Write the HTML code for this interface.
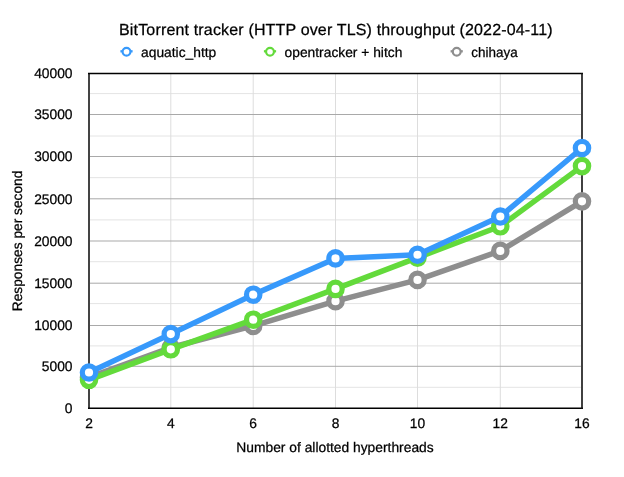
<!DOCTYPE html><html><head><meta charset="utf-8"><style>html,body{margin:0;padding:0;background:#fff;width:624px;height:477px;overflow:hidden}svg{display:block;will-change:transform}text{font-family:"Liberation Sans",sans-serif;fill:#000;stroke:#000;stroke-width:0.25px;text-rendering:geometricPrecision}</style></head><body>
<svg width="624" height="477" viewBox="0 0 624 477">
<rect width="624" height="477" fill="#fff"/>
<line x1="90" x2="581" y1="93.60" y2="93.60" stroke="#e4e4e4" stroke-width="1"/>
<line x1="90" x2="581" y1="136.00" y2="136.00" stroke="#e4e4e4" stroke-width="1"/>
<line x1="90" x2="581" y1="177.65" y2="177.65" stroke="#e4e4e4" stroke-width="1"/>
<line x1="90" x2="581" y1="219.90" y2="219.90" stroke="#e4e4e4" stroke-width="1"/>
<line x1="90" x2="581" y1="261.70" y2="261.70" stroke="#e4e4e4" stroke-width="1"/>
<line x1="90" x2="581" y1="303.60" y2="303.60" stroke="#e4e4e4" stroke-width="1"/>
<line x1="90" x2="581" y1="345.90" y2="345.90" stroke="#e4e4e4" stroke-width="1"/>
<line x1="90" x2="581" y1="387.30" y2="387.30" stroke="#e4e4e4" stroke-width="1"/>
<line x1="170.80" x2="170.80" y1="73.60" y2="408.30" stroke="#dddddd" stroke-width="1"/>
<line x1="253.20" x2="253.20" y1="73.60" y2="408.30" stroke="#dddddd" stroke-width="1"/>
<line x1="335.50" x2="335.50" y1="73.60" y2="408.30" stroke="#dddddd" stroke-width="1"/>
<line x1="417.50" x2="417.50" y1="73.60" y2="408.30" stroke="#dddddd" stroke-width="1"/>
<line x1="500.30" x2="500.30" y1="73.60" y2="408.30" stroke="#dddddd" stroke-width="1"/>
<line x1="90" x2="581" y1="366.30" y2="366.30" stroke="#a9a9a9" stroke-width="1"/>
<line x1="90" x2="581" y1="325.50" y2="325.50" stroke="#a9a9a9" stroke-width="1"/>
<line x1="90" x2="581" y1="283.20" y2="283.20" stroke="#a9a9a9" stroke-width="1"/>
<line x1="90" x2="581" y1="241.00" y2="241.00" stroke="#a9a9a9" stroke-width="1"/>
<line x1="90" x2="581" y1="198.80" y2="198.80" stroke="#a9a9a9" stroke-width="1"/>
<line x1="90" x2="581" y1="156.50" y2="156.50" stroke="#a9a9a9" stroke-width="1"/>
<line x1="90" x2="581" y1="114.50" y2="114.50" stroke="#a9a9a9" stroke-width="1"/>
<line x1="89" x2="89" y1="72.90" y2="409.00" stroke="#444" stroke-width="2"/>
<line x1="88" x2="583" y1="408.30" y2="408.30" stroke="#000" stroke-width="1.5"/>
<line x1="88" x2="583" y1="73.60" y2="73.60" stroke="#000" stroke-width="1.5"/>
<line x1="582" x2="582" y1="72.90" y2="409.00" stroke="#111" stroke-width="1.6"/>
<text x="72.5" y="413.20" font-size="13.8" text-anchor="end">0</text>
<text x="72.5" y="371.20" font-size="13.8" text-anchor="end">5000</text>
<text x="72.5" y="330.40" font-size="13.8" text-anchor="end">10000</text>
<text x="72.5" y="288.10" font-size="13.8" text-anchor="end">15000</text>
<text x="72.5" y="245.90" font-size="13.8" text-anchor="end">20000</text>
<text x="72.5" y="203.70" font-size="13.8" text-anchor="end">25000</text>
<text x="72.5" y="161.40" font-size="13.8" text-anchor="end">30000</text>
<text x="72.5" y="119.40" font-size="13.8" text-anchor="end">35000</text>
<text x="72.5" y="78.40" font-size="13.8" text-anchor="end">40000</text>
<text x="89.00" y="427.8" font-size="13.8" text-anchor="middle">2</text>
<text x="170.80" y="427.8" font-size="13.8" text-anchor="middle">4</text>
<text x="253.20" y="427.8" font-size="13.8" text-anchor="middle">6</text>
<text x="335.50" y="427.8" font-size="13.8" text-anchor="middle">8</text>
<text x="417.50" y="427.8" font-size="13.8" text-anchor="middle">10</text>
<text x="500.30" y="427.8" font-size="13.8" text-anchor="middle">12</text>
<text x="582.00" y="427.8" font-size="13.8" text-anchor="middle">16</text>
<text x="335.0" y="452.2" font-size="13.82" text-anchor="middle">Number of allotted hyperthreads</text>
<text transform="translate(22.2,240.9) rotate(-90)" x="0" y="0" font-size="13.75" text-anchor="middle">Responses per second</text>
<text x="119" y="34.5" font-size="16" letter-spacing="0.165">BitTorrent tracker (HTTP over TLS) throughput (2022-04-11)</text>
<line x1="120.40" x2="132.60" y1="51.3" y2="51.3" stroke="#3799fb" stroke-width="2.3"/>
<circle cx="126.5" cy="51.7" r="3.9" fill="#fff" stroke="#3799fb" stroke-width="2.15"/>
<text x="141.10" y="57.2" font-size="13.8">aquatic_http</text>
<line x1="263.90" x2="276.10" y1="51.3" y2="51.3" stroke="#63da3b" stroke-width="2.3"/>
<circle cx="270" cy="51.7" r="3.9" fill="#fff" stroke="#63da3b" stroke-width="2.15"/>
<text x="284.60" y="57.2" font-size="13.8">opentracker + hitch</text>
<line x1="450.60" x2="462.80" y1="51.3" y2="51.3" stroke="#8e8e8e" stroke-width="2.3"/>
<circle cx="456.7" cy="51.7" r="3.9" fill="#fff" stroke="#8e8e8e" stroke-width="2.15"/>
<text x="471.30" y="57.2" font-size="13.8" textLength="46.4" lengthAdjust="spacingAndGlyphs">chihaya</text>
<polyline points="89.00,377.40 170.80,347.50 253.20,325.90 335.50,301.20 417.50,279.90 500.30,250.90 582.00,201.35" fill="none" stroke="#8e8e8e" stroke-width="5.5" stroke-linejoin="round"/>
<circle cx="89.00" cy="377.40" r="6.7" fill="#fff" stroke="#8e8e8e" stroke-width="5.2"/>
<circle cx="170.80" cy="347.50" r="6.7" fill="#fff" stroke="#8e8e8e" stroke-width="5.2"/>
<circle cx="253.20" cy="325.90" r="6.7" fill="#fff" stroke="#8e8e8e" stroke-width="5.2"/>
<circle cx="335.50" cy="301.20" r="6.7" fill="#fff" stroke="#8e8e8e" stroke-width="5.2"/>
<circle cx="417.50" cy="279.90" r="6.7" fill="#fff" stroke="#8e8e8e" stroke-width="5.2"/>
<circle cx="500.30" cy="250.90" r="6.7" fill="#fff" stroke="#8e8e8e" stroke-width="5.2"/>
<circle cx="582.00" cy="201.35" r="6.7" fill="#fff" stroke="#8e8e8e" stroke-width="5.2"/>
<polyline points="89.00,379.80 170.80,349.30 253.20,319.70 335.50,288.90 417.50,257.60 500.30,226.30 582.00,166.10" fill="none" stroke="#63da3b" stroke-width="5.5" stroke-linejoin="round"/>
<circle cx="89.00" cy="379.80" r="6.7" fill="#fff" stroke="#63da3b" stroke-width="5.2"/>
<circle cx="170.80" cy="349.30" r="6.7" fill="#fff" stroke="#63da3b" stroke-width="5.2"/>
<circle cx="253.20" cy="319.70" r="6.7" fill="#fff" stroke="#63da3b" stroke-width="5.2"/>
<circle cx="335.50" cy="288.90" r="6.7" fill="#fff" stroke="#63da3b" stroke-width="5.2"/>
<circle cx="417.50" cy="257.60" r="6.7" fill="#fff" stroke="#63da3b" stroke-width="5.2"/>
<circle cx="500.30" cy="226.30" r="6.7" fill="#fff" stroke="#63da3b" stroke-width="5.2"/>
<circle cx="582.00" cy="166.10" r="6.7" fill="#fff" stroke="#63da3b" stroke-width="5.2"/>
<polyline points="89.00,372.50 170.80,334.10 253.20,294.70 335.50,258.40 417.50,254.75 500.30,216.50 582.00,148.00" fill="none" stroke="#3799fb" stroke-width="5.5" stroke-linejoin="round"/>
<circle cx="89.00" cy="372.50" r="6.7" fill="#fff" stroke="#3799fb" stroke-width="5.2"/>
<circle cx="170.80" cy="334.10" r="6.7" fill="#fff" stroke="#3799fb" stroke-width="5.2"/>
<circle cx="253.20" cy="294.70" r="6.7" fill="#fff" stroke="#3799fb" stroke-width="5.2"/>
<circle cx="335.50" cy="258.40" r="6.7" fill="#fff" stroke="#3799fb" stroke-width="5.2"/>
<circle cx="417.50" cy="254.75" r="6.7" fill="#fff" stroke="#3799fb" stroke-width="5.2"/>
<circle cx="500.30" cy="216.50" r="6.7" fill="#fff" stroke="#3799fb" stroke-width="5.2"/>
<circle cx="582.00" cy="148.00" r="6.7" fill="#fff" stroke="#3799fb" stroke-width="5.2"/>
</svg></body></html>
